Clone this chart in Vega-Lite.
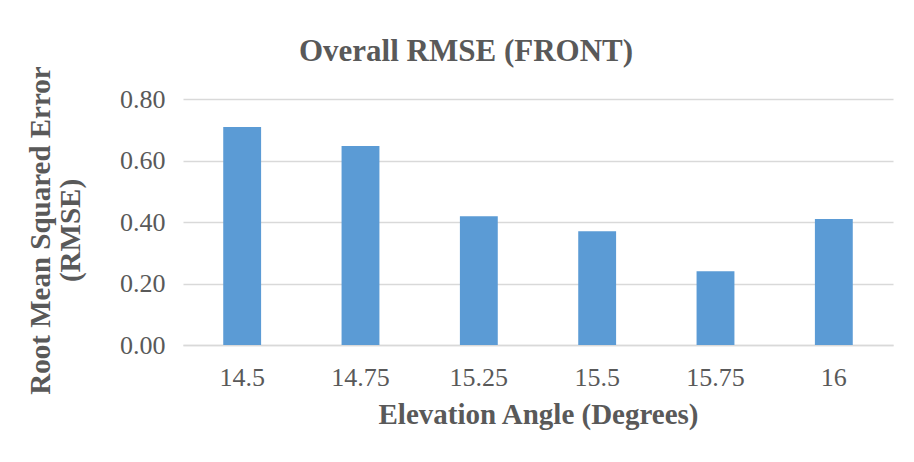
{
  "$schema": "https://vega.github.io/schema/vega-lite/v6.json",
  "width": 710,
  "height": 246,
  "autosize": {"type": "none"},
  "padding": {"left": 183, "top": 99, "right": 21, "bottom": 117},
  "background": "white",
  "title": {
    "text": "Overall RMSE (FRONT)",
    "font": "Liberation Serif",
    "fontSize": 31,
    "fontWeight": "bold",
    "color": "#595959",
    "anchor": "middle",
    "frame": "group",
    "offset": 0,
    "dy": 2,
    "dx": -72
  },
  "data": {
    "values": [
      {"angle": "14.5", "rmse": 0.709},
      {"angle": "14.75", "rmse": 0.647},
      {"angle": "15.25", "rmse": 0.419},
      {"angle": "15.5", "rmse": 0.370},
      {"angle": "15.75", "rmse": 0.240},
      {"angle": "16", "rmse": 0.410}
    ]
  },
  "mark": {"type": "bar", "color": "#5b9bd5"},
  "encoding": {
    "x": {
      "field": "angle",
      "type": "ordinal",
      "sort": null,
      "scale": {"paddingInner": 0.68, "paddingOuter": 0.34},
      "axis": {
        "title": "Elevation Angle (Degrees)",
        "labelAngle": 0,
        "ticks": false,
        "domain": true,
        "domainColor": "#d9d9d9",
        "domainWidth": 1.5,
        "labelPadding": 19,
        "titlePadding": 10
      }
    },
    "y": {
      "field": "rmse",
      "type": "quantitative",
      "scale": {"domain": [0, 0.8]},
      "axis": {
        "title": ["Root Mean Squared Error", "(RMSE)"],
        "values": [0, 0.2, 0.4, 0.6, 0.8],
        "format": ".2f",
        "ticks": false,
        "domain": false,
        "labelPadding": 18,
        "titlePadding": 34,
        "titleY": 131,
        "gridColor": "#d9d9d9",
        "gridWidth": 1.5
      }
    }
  },
  "config": {
    "view": {"stroke": null},
    "axis": {
      "labelFont": "Liberation Serif",
      "labelFontSize": 26,
      "labelColor": "#595959",
      "titleFont": "Liberation Serif",
      "titleFontSize": 29,
      "titleFontWeight": "bold",
      "titleColor": "#595959",
      "titleLineHeight": 30
    }
  }
}
